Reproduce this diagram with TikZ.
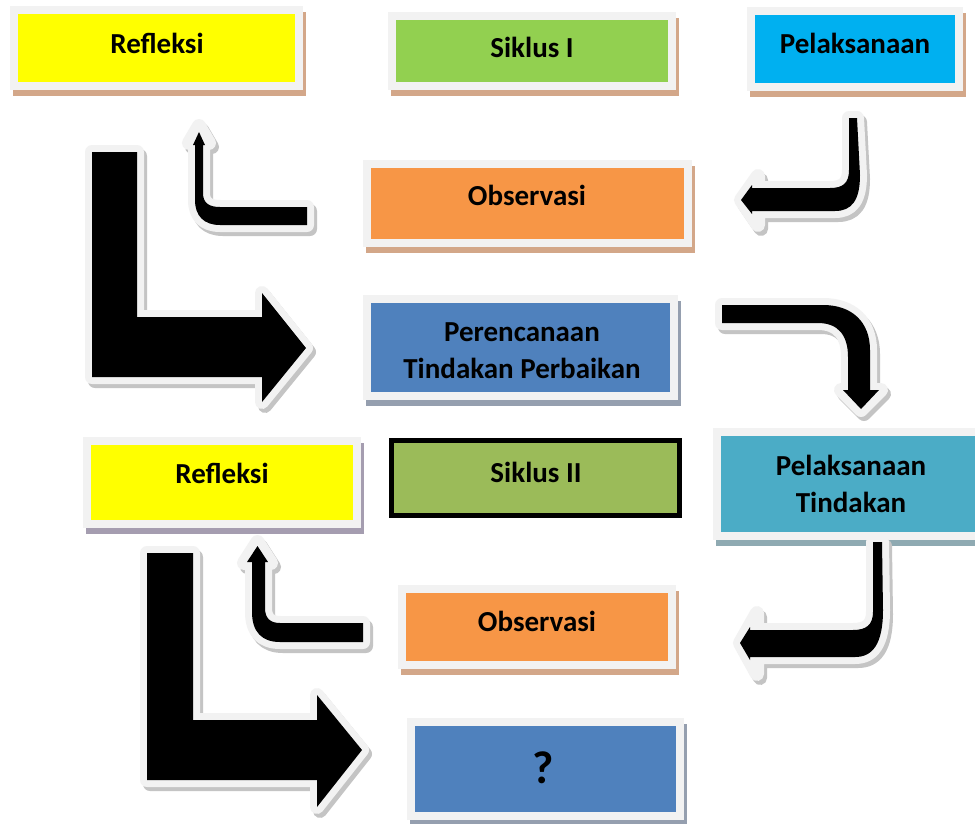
\documentclass[tikz,border=0pt]{standalone}
\usepackage{fontspec}
\setmainfont{Carlito}
\definecolor{framegray}{HTML}{F2F2F2}
\definecolor{shadowgray}{HTML}{C4C4C4}
\definecolor{brownsh}{HTML}{D3A789}
\definecolor{bluesh}{HTML}{959FAF}
\definecolor{purplesh}{HTML}{A59DB0}
\definecolor{tealsh}{HTML}{8FAAB2}
\definecolor{cyellow}{HTML}{FFFF00}
\definecolor{cgreen}{HTML}{92D050}
\definecolor{ccyan}{HTML}{00B0F0}
\definecolor{corange}{HTML}{F79646}
\definecolor{cblue}{HTML}{4F81BD}
\definecolor{colive}{HTML}{9BBB59}
\definecolor{cteal}{HTML}{4BACC6}
\tikzset{
  txt/.style={font=\fontsize{29}{37}\selectfont\bfseries, align=center, inner sep=0pt},
  bigtxt/.style={font=\fontsize{46}{50}\selectfont\bfseries, align=center, inner sep=0pt},
  arrshadow/.style={fill=shadowgray, draw=shadowgray, line width=14pt, line join=round, shift={(3,4)}},
  arrwhite/.style={fill=framegray, draw=framegray, line width=14pt, line join=round},
  arrblack/.style={fill=black},
}
% #1 outer x1, #2 y1, #3 x2, #4 y2, #5 fill colour, #6 shadow colour
\newcommand\pnl[6]{%
  \fill[#6] (#1+3,#2+6) rectangle (#3+3,#4+6);
  \fill[framegray] (#1,#2) rectangle (#3,#4);
  \fill[#5] (#1+8,#2+8) rectangle (#3-8,#4-8);
}
% #1 outline path, #2 black path
\newcommand\blockarr[2]{%
  \filldraw[arrshadow] #1;
  \filldraw[arrwhite] #1;
  \fill[arrblack] #2;
}
\begin{document}
\begin{tikzpicture}[x=1pt,y=-1pt]
\clip (0,0) rectangle (975,823);
\fill[white] (0,0) rectangle (975,823);

% ---------- boxes ----------
\pnl{10}{6}{303}{90}{cyellow}{brownsh}
\node[txt] (refl1) at (157,43) {Refleksi};

\pnl{388}{12}{676}{90}{cgreen}{brownsh}
\node[txt] (sik1) at (532,47) {Siklus I};

\pnl{747}{7}{963}{91}{ccyan}{brownsh}
\node[txt] (pel1) at (855,43) {Pelaksanaan};

\pnl{363}{160}{692}{247}{corange}{brownsh}
\node[txt] (obs1) at (527,195) {Observasi};

\pnl{363}{295}{678}{400}{cblue}{bluesh}
\node[txt] (per) at (522,351) {Perencanaan\\Tindakan Perbaikan};

\pnl{83}{437}{361}{528}{cyellow}{purplesh}
\node[txt] (refl2) at (222,473) {Refleksi};

\filldraw[fill=colive, draw=black, line width=5pt] (391.5,440.5) rectangle (679.5,515.5);
\node[txt] (sik2) at (536,472) {Siklus II};

\pnl{713}{428}{989}{540}{cteal}{tealsh}
\node[txt] (pt) at (851,484) {Pelaksanaan\\Tindakan};

\pnl{398}{585}{676}{669}{corange}{brownsh}
\node[txt] (obs2) at (537,621) {Observasi};

\pnl{407}{718}{684}{820}{cblue}{bluesh}
\node[bigtxt] (qq) at (543,768) {?};

% ---------- block arrows ----------
% big L arrow, cycle I
\blockarr{(92,152) -- (137,152) -- (137,317) -- (262,317) -- (262,293) -- (306,348) -- (262,402) -- (262,377) -- (92,377) -- cycle}
         {(92,152) -- (137,152) -- (137,317) -- (262,317) -- (262,293) -- (306,348) -- (262,402) -- (262,377) -- (92,377) -- cycle}

% big L arrow, cycle II
\blockarr{(147,553) -- (193,553) -- (193,720) -- (317,720) -- (317,695) -- (362,750) -- (317,807) -- (317,780) -- (147,780) -- cycle}
         {(147,553) -- (193,553) -- (193,720) -- (317,720) -- (317,695) -- (362,750) -- (317,807) -- (317,780) -- (147,780) -- cycle}

% small hook arrow up, cycle I (Observasi -> Refleksi)
\blockarr{(307,207) -- (220,207) .. controls (209,207) and (203,203) .. (203,193) -- (203,143) -- (209,143) -- (199,126) -- (189,143) -- (195,143) -- (195,200) .. controls (195,216) and (204,225) .. (220,225) -- (307,225) -- cycle}
         {(307,207) -- (220,207) .. controls (209,207) and (203,203) .. (203,193) -- (203,145) -- (205,145) -- (199,132) -- (193,145) -- (195,145) -- (195,200) .. controls (195,216) and (204,225) .. (220,225) -- (307,225) -- cycle}

% small hook arrow up, cycle II
\blockarr{(363,623) -- (280,623) .. controls (270,623) and (265,618) .. (265,608) -- (265,563) -- (271,563) -- (257.5,542) -- (244,563) -- (252,563) -- (252,612) .. controls (252,632) and (262,642) .. (280,642) -- (363,642) -- cycle}
         {(363,623) -- (280,623) .. controls (270,623) and (265,618) .. (265,608) -- (265,562) -- (268,562) -- (257.5,546) -- (247,562) -- (252,562) -- (252,612) .. controls (252,632) and (262,642) .. (280,642) -- (363,642) -- cycle}

% hook arrow left, cycle I (Pelaksanaan -> Observasi)
\blockarr{(849,118) -- (857,118) -- (860,175) .. controls (860,200) and (852,211) .. (835,211) -- (758,211) -- (758,225) -- (741,200) -- (758,176) -- (758,188) -- (830,188) .. controls (843,188) and (849,183) .. (849,170) -- cycle}
         {(849,118) -- (857,118) -- (860,175) .. controls (860,200) and (852,211) .. (835,211) -- (752,211) -- (752,214) -- (741,200) -- (752,185) -- (752,188) -- (830,188) .. controls (843,188) and (849,183) .. (849,170) -- cycle}

% curved arrow down (Perencanaan -> Pelaksanaan Tindakan)
\blockarr{(722,305) -- (823,305) .. controls (852,305) and (870,322) .. (870,350) -- (870,390) -- (881,390) -- (861,410) -- (841,390) -- (848,390) -- (848,357) .. controls (848,335) and (838,323) .. (818,323) -- (722,323) -- cycle}
         {(722,305) -- (823,305) .. controls (852,305) and (870,322) .. (870,350) -- (870,390) -- (879,390) -- (861,409) -- (843,390) -- (848,390) -- (848,357) .. controls (848,335) and (838,323) .. (818,323) -- (722,323) -- cycle}

% hook arrow left, cycle II (Pelaksanaan Tindakan -> Observasi)
\blockarr{(873,542) -- (882,542) -- (883,610) .. controls (883,645) and (872,657) .. (855,657) -- (757,657) -- (757,674) -- (740,643) -- (757,613) -- (757,630) -- (853,630) .. controls (866,630) and (873,625) .. (873,612) -- cycle}
         {(873,542) -- (882,542) -- (883,610) .. controls (883,645) and (872,657) .. (855,657) -- (750,657) -- (750,660) -- (740,643) -- (750,627) -- (750,630) -- (853,630) .. controls (866,630) and (873,625) .. (873,612) -- cycle}
\end{tikzpicture}
\end{document}
